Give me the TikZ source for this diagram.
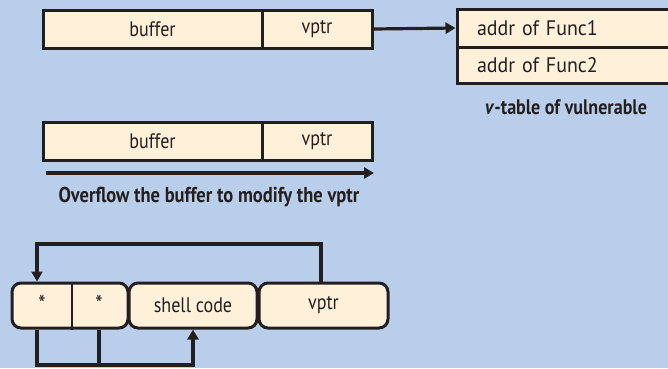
\documentclass[tikz,border=0pt]{standalone}
\usepackage{fontspec}
\setmainfont{PT Sans}[FakeStretch=0.86]
\newfontfamily\wideish{PT Sans}[FakeStretch=0.95]
\usetikzlibrary{arrows.meta}
\definecolor{bg}{HTML}{B9CEEA}
\definecolor{cell}{HTML}{FFF0D9}
\definecolor{ink}{HTML}{231F20}
\begin{document}
\begin{tikzpicture}[x=1pt,y=-1pt,
  cellbox/.style={draw=ink,fill=cell,line width=3pt,inner sep=0pt,font=\fontsize{21}{24}\selectfont,text=ink},
  roundbox/.style={cellbox,rounded corners=9pt,minimum height=45pt},
  conn/.style={draw=ink,line width=3.2pt},
  arr/.style={conn,-{Triangle[length=10pt,width=11pt]}},
  lbl/.style={font=\bfseries\fontsize{21.5}{24}\selectfont,text=ink}]
\useasboundingbox[fill=bg] (0,0) rectangle (668,368);
% top row
\node[cellbox,minimum width=219pt,minimum height=38pt] (buf1) at (152.5,29) {buffer};
\node[cellbox,minimum width=110pt,minimum height=38pt] (vp1) at (317,29) {vptr};
% v-table
\node[cellbox,minimum width=215pt,minimum height=38pt,text width=175pt,align=left,font=\wideish\fontsize{21}{24}\selectfont] (f1) at (564.5,28) {addr of Func1};
\node[cellbox,minimum width=215pt,minimum height=36pt,text width=175pt,align=left,font=\wideish\fontsize{21}{24}\selectfont] (f2) at (564.5,65) {addr of Func2};
\node[lbl,font=\bfseries\fontsize{21}{24}\selectfont] (vtl) at (566,107) {\textit{v}-table of vulnerable};
\draw[arr] (vp1.east) -- (f1.west);
% second row
\node[cellbox,minimum width=219pt,minimum height=38pt] (buf2) at (152.5,141) {buffer};
\node[cellbox,minimum width=110pt,minimum height=38pt] (vp2) at (317,141) {vptr};
\coordinate (ovs) at (46,173);
\coordinate (ove) at (374,173);
\draw[arr] (ovs) -- (ove);
\node[lbl] (ovl) at (209,197) {Overflow the buffer to modify the vptr};
% bottom row
\node[roundbox,minimum width=116pt] (ptrs) at (70,305.5) {};
\node[text=ink,font=\fontsize{24}{26}\selectfont] (s1) at (42,304) {*};
\node[text=ink,font=\fontsize{24}{26}\selectfont] (s2) at (99,304) {*};
\draw[draw=ink,line width=2.4pt] (ptrs.north -| 72,0) -- (ptrs.south -| 72,0);
\node[roundbox,minimum width=128pt] (sc) at (193,305.5) {shell code};
\node[roundbox,minimum width=129pt] (vp3) at (323.5,305.5) {vptr};
\coordinate (t1) at (321,244);
\coordinate (t2) at (37,244);
\draw[arr] (vp3.north -| t1) -- (t1) -- (t2) -- (ptrs.north -| t2);
\coordinate (b1) at (37,365);
\coordinate (b2) at (99,365);
\coordinate (b3) at (193,365);
\draw[arr] (ptrs.south -| b1) -- (b1) -- (b3) -- (sc.south);
\draw[conn] (ptrs.south -| b2) -- (b2);
\end{tikzpicture}
\end{document}
